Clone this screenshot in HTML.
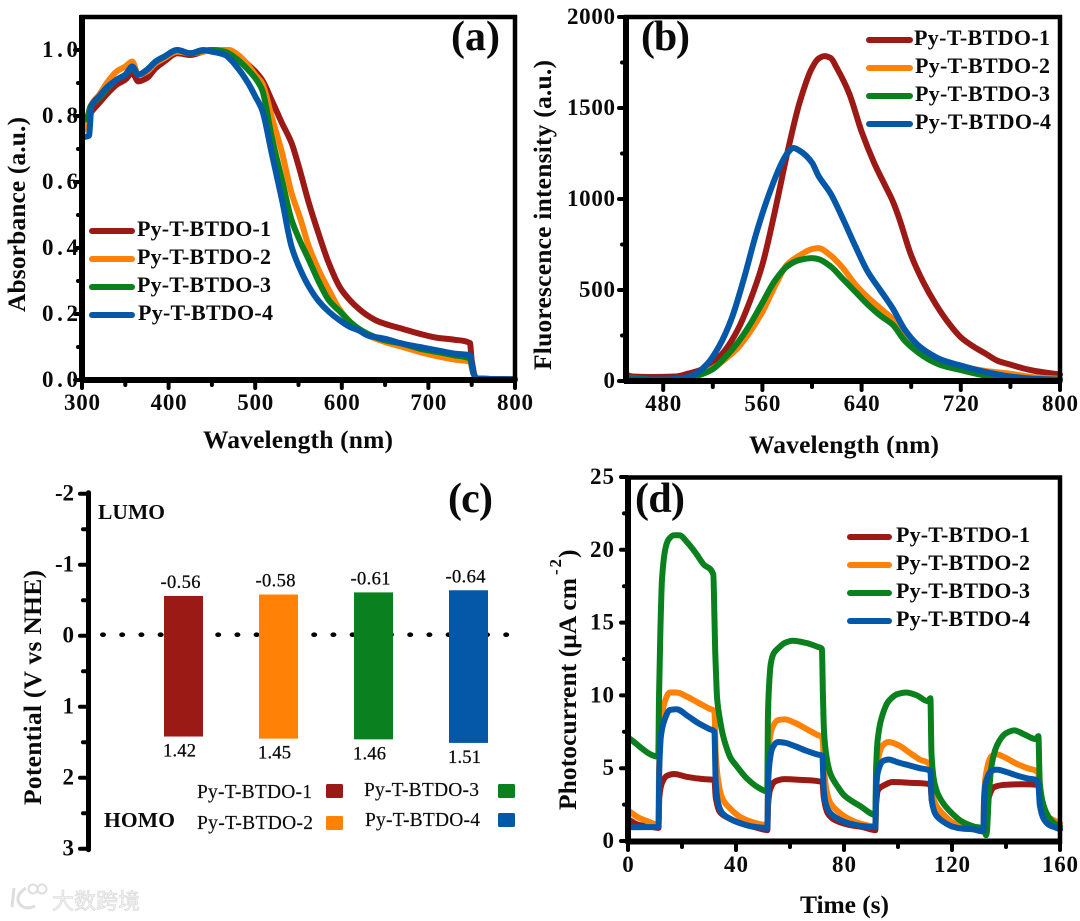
<!DOCTYPE html>
<html lang="en">
<head>
<meta charset="utf-8">
<title>Py-T-BTDO characterisation panels</title>
<style>
html,body{margin:0;padding:0;background:#fff;width:1080px;height:921px;overflow:hidden}
svg{display:block;filter:blur(0.35px)}
text{font-family:"Liberation Serif","Noto Serif CJK SC",serif;font-weight:bold;fill:#0a0a0a}
.reg{font-weight:normal;font-size:19.5px;stroke:#111;stroke-width:.15}
.leg{font-size:22px}
.ttl{font-size:25.5px}
.tag{font-size:42px}
.big{font-size:21.5px}
.swatch-line{stroke-width:6;stroke-linecap:round;fill:none}
.frame{fill:none;stroke:#000;stroke-width:4.5}
</style>
</head>
<body>
<svg id="figure" xmlns="http://www.w3.org/2000/svg" width="1080" height="921" viewBox="0 0 1080 921">
  <rect x="0" y="0" width="1080" height="921" fill="#fff"/>

  <g id="panel-a">
    <g id="a-series"></g>
    <rect class="frame" x="82" y="17" width="433" height="363"/>
    <line x1="82" y1="15" x2="82" y2="382" stroke="#000" stroke-width="6"/>
    <line x1="80" y1="380" x2="517" y2="380" stroke="#000" stroke-width="6"/>
    <g id="a-ticks"></g>
    <text class="ttl" x="203" y="448" textLength="190" lengthAdjust="spacing">Wavelength (nm)</text>
    <text class="ttl" transform="translate(25,312) rotate(-90)" textLength="195" lengthAdjust="spacing">Absorbance (a.u.)</text>
    <text class="tag" x="451" y="50" textLength="49" lengthAdjust="spacing">(a)</text>
    <g>
      <line class="swatch-line" x1="92" y1="231" x2="132" y2="231" stroke="#9c1a16"/>
      <line class="swatch-line" x1="92" y1="259" x2="132" y2="259" stroke="#ff8207"/>
      <line class="swatch-line" x1="92" y1="287" x2="132" y2="287" stroke="#0b801e"/>
      <line class="swatch-line" x1="92" y1="315" x2="132" y2="315" stroke="#0558a8"/>
      <text class="leg" x="137" y="236" textLength="134" lengthAdjust="spacing">Py-T-BTDO-1</text>
      <text class="leg" x="137" y="264" textLength="134" lengthAdjust="spacing">Py-T-BTDO-2</text>
      <text class="leg" x="137" y="292" textLength="134" lengthAdjust="spacing">Py-T-BTDO-3</text>
      <text class="leg" x="138" y="320" textLength="135" lengthAdjust="spacing">Py-T-BTDO-4</text>
    </g>
  </g>

  <g id="panel-b">
    <g id="b-series"></g>
    <rect class="frame" x="626" y="17" width="434" height="364"/>
    <line x1="626" y1="15" x2="626" y2="383" stroke="#000" stroke-width="6"/>
    <line x1="624" y1="381" x2="1062" y2="381" stroke="#000" stroke-width="6"/>
    <g id="b-ticks"></g>
    <text class="ttl" x="749" y="453" textLength="190" lengthAdjust="spacing">Wavelength (nm)</text>
    <text class="ttl" transform="translate(551,370) rotate(-90)" textLength="310" lengthAdjust="spacing">Fluorescence intensity (a.u.)</text>
    <text class="tag" x="641" y="50" textLength="49" lengthAdjust="spacing">(b)</text>
    <g>
      <line class="swatch-line" x1="869" y1="40" x2="910" y2="40" stroke="#9c1a16"/>
      <line class="swatch-line" x1="869" y1="68" x2="910" y2="68" stroke="#ff8207"/>
      <line class="swatch-line" x1="869" y1="96" x2="910" y2="96" stroke="#0b801e"/>
      <line class="swatch-line" x1="869" y1="124" x2="910" y2="124" stroke="#0558a8"/>
      <text class="leg" x="914" y="45" textLength="136" lengthAdjust="spacing">Py-T-BTDO-1</text>
      <text class="leg" x="915" y="73" textLength="135" lengthAdjust="spacing">Py-T-BTDO-2</text>
      <text class="leg" x="915" y="101" textLength="135" lengthAdjust="spacing">Py-T-BTDO-3</text>
      <text class="leg" x="915" y="129" textLength="136" lengthAdjust="spacing">Py-T-BTDO-4</text>
    </g>
  </g>

  <g id="panel-c">
    <g id="c-dots"></g>
    <g id="c-bars"></g>
    <g id="c-ticks"></g>
    <text class="big" x="98" y="519" textLength="67" lengthAdjust="spacing">LUMO</text>
    <text class="big" x="104" y="827" textLength="71" lengthAdjust="spacing">HOMO</text>
    <text class="ttl" transform="translate(41,805) rotate(-90)" textLength="235" lengthAdjust="spacing">Potential (V vs NHE)</text>
    <text class="tag" x="448" y="512" textLength="45" lengthAdjust="spacing">(c)</text>
    <g>
      <text class="reg" x="197" y="798" textLength="115" lengthAdjust="spacing">Py-T-BTDO-1</text>
      <text class="reg" x="197" y="829" textLength="116" lengthAdjust="spacing">Py-T-BTDO-2</text>
      <text class="reg" x="364" y="796" textLength="115" lengthAdjust="spacing">Py-T-BTDO-3</text>
      <text class="reg" x="365" y="826" textLength="115" lengthAdjust="spacing">Py-T-BTDO-4</text>
      <rect x="326" y="784" width="17" height="14" rx="1.5" fill="#9c1a16"/>
      <rect x="326" y="816" width="17" height="14" rx="1.5" fill="#ff8207"/>
      <rect x="498" y="784" width="17" height="14" rx="1.5" fill="#0b801e"/>
      <rect x="498" y="813" width="17" height="14" rx="1.5" fill="#0558a8"/>
    </g>
  </g>

  <g id="panel-d">
    <g id="d-series"></g>
    <rect class="frame" x="628" y="477.5" width="432" height="364"/>
    <line x1="628" y1="475.5" x2="628" y2="843.5" stroke="#000" stroke-width="6"/>
    <line x1="626" y1="841.5" x2="1062" y2="841.5" stroke="#000" stroke-width="6"/>
    <g id="d-ticks"></g>
    <text class="ttl" x="800" y="913" textLength="89" lengthAdjust="spacing">Time (s)</text>
    <g>
      <text class="ttl" transform="translate(576,810) rotate(-90)" textLength="232" lengthAdjust="spacing">Photocurrent (μA cm</text>
      <text style="font-size:17px" transform="translate(561,575) rotate(-90)" textLength="16" lengthAdjust="spacing">-2</text>
      <text class="ttl" transform="translate(576,558) rotate(-90)" textLength="8" lengthAdjust="spacing">)</text>
    </g>
    <text class="tag" x="635" y="512" textLength="50" lengthAdjust="spacing">(d)</text>
    <g>
      <line class="swatch-line" x1="850" y1="537" x2="889" y2="537" stroke="#9c1a16"/>
      <line class="swatch-line" x1="850" y1="565" x2="889" y2="565" stroke="#ff8207"/>
      <line class="swatch-line" x1="850" y1="593" x2="889" y2="593" stroke="#0b801e"/>
      <line class="swatch-line" x1="850" y1="621" x2="889" y2="621" stroke="#0558a8"/>
      <text class="leg" x="896" y="542" textLength="134" lengthAdjust="spacing">Py-T-BTDO-1</text>
      <text class="leg" x="896" y="570" textLength="134" lengthAdjust="spacing">Py-T-BTDO-2</text>
      <text class="leg" x="896" y="598" textLength="134" lengthAdjust="spacing">Py-T-BTDO-3</text>
      <text class="leg" x="896" y="626" textLength="134" lengthAdjust="spacing">Py-T-BTDO-4</text>
    </g>
  </g>

  <g>
    <g fill="none" stroke="#dedede" stroke-width="3">
      <path d="M14 888 L12 907 M26 888 Q15 895 19 903 Q24 911 35 906"/>
      <circle cx="33" cy="889" r="4.5" stroke-width="2"/>
      <circle cx="42" cy="889" r="4.5" stroke-width="2"/>
    </g>
    <text x="52" y="909" textLength="88" lengthAdjust="spacingAndGlyphs" style="font-family:'Liberation Sans','Noto Sans CJK SC',sans-serif;font-size:22px;font-weight:normal;fill:#f2f2f2;stroke:#d6d6d6;stroke-width:.6">大数跨境</text>
  </g>
</svg>

<script>
/* ---------- Panel (a) absorbance ---------- */
const aX1 = [300,310,320,330,340,350,358,365,375,385,395,410,425,440,450,470,480,490,500,508,519,531,542,550,562,573,585,598,610,620,630,640,650,670,690,710,730,748,750,755,800];
const aY1 = [.77,.81,.84,.87,.895,.91,.93,.905,.915,.945,.965,.99,.985,.995,1,.998,.985,.96,.935,.909,.848,.778,.718,.65,.536,.445,.354,.28,.24,.215,.195,.18,.17,.155,.14,.128,.122,.112,.06,.005,.002];
const aX2 = [300,305,310,320,330,340,350,358,365,375,385,395,410,425,440,450,470,480,490,500,508,519,531,542,552,562,573,585,598,610,620,630,650,670,690,710,730,748,752,756,800];
const aY2 = [.75,.77,.83,.865,.905,.935,.95,.965,.925,.935,.96,.975,.995,.99,.995,1,1,.985,.96,.925,.899,.798,.688,.566,.49,.404,.335,.273,.212,.175,.15,.135,.115,.10,.085,.072,.062,.055,.02,.005,.002];
const aX3 = [300,305,310,320,330,340,350,358,365,375,385,395,410,425,440,450,465,480,490,500,508,519,531,542,552,562,573,585,598,610,620,630,650,670,690,710,730,748,752,756,800];
const aY3 = [.79,.79,.83,.855,.885,.91,.925,.945,.925,.94,.965,.98,1,.99,.998,1,.995,.97,.945,.915,.879,.737,.606,.485,.42,.364,.30,.242,.207,.175,.155,.14,.12,.11,.095,.085,.075,.065,.02,.005,.002];
const aX4 = [300,308,311,320,330,340,350,358,365,375,385,395,410,425,440,450,465,480,492,500,508,519,531,542,552,562,573,585,598,610,620,630,650,670,690,710,730,748,752,756,800];
const aY4 = [.735,.74,.83,.86,.89,.91,.925,.95,.925,.94,.965,.98,1,.99,1,.995,.985,.945,.899,.86,.818,.688,.545,.404,.335,.283,.24,.207,.18,.16,.15,.135,.125,.11,.10,.09,.08,.075,.02,.005,.002];
const aXTicks = ["300","400","500","600","700","800"];
const aYTicks = ["0.0","0.2","0.4","0.6","0.8","1.0"];

/* ---------- Panel (b) fluorescence ---------- */
const bX1 = [450,455,470,490,500,510,520,530,540,550,560,570,580,590,600,605,610,615,620,630,640,650,660,665,670,680,690,700,710,720,730,740,750,760,770,780,790,800];
const bY1 = [35,25,22,25,40,60,100,170,280,440,640,930,1250,1530,1720,1770,1785,1775,1720,1580,1370,1200,1060,990,900,690,540,420,320,240,190,150,110,90,70,55,45,35];
const bX2 = [450,480,495,510,520,530,540,550,560,570,580,590,600,605,615,625,635,645,655,665,675,685,695,705,720,740,760,780,800];
const bY2 = [8,5,12,35,70,120,180,270,380,520,640,690,725,730,690,620,530,460,400,340,240,170,135,105,80,55,40,20,12];
const bX3 = [450,480,495,510,520,530,540,550,560,570,580,590,600,605,615,625,635,645,655,665,675,685,695,705,720,740,760,780,800];
const bY3 = [20,5,10,35,65,130,210,310,430,550,630,665,675,670,630,560,490,420,360,310,220,160,115,85,60,30,15,5,3];
const bX4 = [450,480,495,505,515,525,535,545,555,565,575,580,585,590,600,605,615,625,635,645,655,665,675,685,695,705,720,740,760,780,800];
const bY4 = [10,8,15,35,90,190,340,560,810,1020,1190,1250,1280,1265,1200,1130,1030,890,740,600,500,400,280,200,150,115,85,50,25,12,8];
const bXTicks = ["480","560","640","720","800"];
const bYTicks = ["0","500","1000","1500","2000"];

/* ---------- Panel (c) energy levels ---------- */
const cLumo = [-0.56,-0.58,-0.61,-0.64];
const cHomo = [1.42,1.45,1.46,1.51];
const cYTicks = ["-2","-1","0","1","2","3"];

/* ---------- Panel (d) photocurrent ---------- */
const dX1 = [0,4,8,11.3,11.6,12.6,14.6,17,22,28,32,32.5,34,37,42,47,51.6,51.9,52.6,54.6,58,64,72,72.5,74,77,82,87,91.6,91.9,92.6,94.6,98,104,112,112.5,114,117,122,128,131.6,132.6,133.6,135.6,139,146,152,152.5,154,156,160];
const dY1 = [1.5,1.1,1,.9,3,4,4.5,4.6,4.4,4.25,4.2,3,2,1.6,1.2,.95,.75,2.5,3.5,4.1,4.25,4.2,4.05,3,1.9,1.4,1.1,.95,.75,2.5,3.5,3.8,4.05,4,3.9,2.8,1.9,1.4,1,.8,.65,2,3,3.7,3.85,3.9,3.85,3,2,1.3,.8];
const dX2 = [0,4,8,11.3,11.5,12.2,13.5,15.5,18,22,26,30,32,32.5,33.5,35,38,42,46,51.6,51.9,52.5,53.5,55.5,58,62,66,70,72,72.6,73.5,75,78,82,86,91.6,91.9,92.5,94.5,96.5,100,104,108,112,112.5,114,117,120,124,128,131.6,131.9,132.5,134.5,136.5,140,144,148,152,152.5,154,156,158,160];
const dY2 = [2.1,1.6,1.3,1.1,5,8,9.5,10.2,10.2,9.9,9.5,9.1,8.9,6,4,2.9,2.2,1.6,1.3,1.1,5,7,7.8,8.3,8.35,8.1,7.7,7.3,7.1,5,3.5,2.6,2,1.5,1.2,1,4,5.5,6.6,6.8,6.6,6.1,5.6,5.2,3.5,2.5,1.8,1.3,1,.9,.8,3,4.5,5.8,5.95,5.7,5.3,5,4.7,3,2.2,1.6,1.4,1.2];
const dX3 = [0,11.2,11.5,12,12.6,14,15,17,19,22,25,28,31.6,32,32.3,32.6,33,34,35,36,38,40,44,48,51.6,51.8,52.2,52.9,54,56,58,61,66,70,71.8,72.2,72.6,73.6,75,77.8,80,86,91.6,91.9,92.5,94.5,96.5,100,103,107,111,112,112.4,113.5,116,120,124,128,132,132.6,132.9,133.6,134.5,136.5,140,143,147,151,152,152.5,154,156,158,160];
const dY3 = [7.1,5.8,10,14.5,18,20.2,20.7,21,21,20.5,19.8,19,18.3,15.5,13,11.5,9.8,8.4,7.4,6.7,5.7,5.2,4.3,3.7,3.4,8.3,10.5,12.2,12.9,13.3,13.6,13.75,13.6,13.35,13.2,10,7.5,5.7,4.6,3.7,3.15,2.4,1.8,5,7,8.8,9.6,10.1,10.2,10,9.6,9.8,6,4,2.8,1.9,1.3,1,.8,.4,.6,3,5,6.5,7.4,7.6,7.3,7,7.2,4,2.4,1.6,1.2,1];
const dX4 = [0,11,11.3,11.6,12.2,13.5,15.5,18,22,26,30,32,32.5,33.5,35,38,42,46,51.6,51.9,52.5,53.5,55.5,58,62,66,70,72,72.5,73.5,75,78,82,86,91.6,91.9,92.5,94.5,96.5,100,104,108,112,112.5,114,117,120,124,128,131.6,131.9,132.5,134.5,136.5,140,144,148,151,152,152.5,154,156,158,160];
const dY4 = [.95,.95,1,5,7.2,8.3,9,9.05,8.6,8.1,7.7,7.5,4,2.5,1.9,1.5,1.2,1,.9,4,5.5,6.4,6.8,6.75,6.5,6.2,5.95,5.85,3.5,2.4,1.9,1.5,1.2,1.05,.95,3.5,4.7,5.5,5.6,5.4,5.2,5,4.8,2.8,1.8,1.3,1,.85,.8,.7,3,4,4.8,4.9,4.75,4.5,4.3,4.2,3.9,2.5,1.5,1.1,.95,.8];
const dXTicks = ["0","40","80","120","160"];
const dYTicks = ["0","5","10","15","20","25"];

const colours = ["#9c1a16","#ff8207","#0b801e","#0558a8"];
const NS = "http://www.w3.org/2000/svg";

function make(tag, parentId, name) {
  const el = document.createElementNS(NS, tag);
  
  
  document.getElementById(parentId).appendChild(el);
  return el;
}
function scale(d0, d1, r0, r1) {
  return v => r0 + (v - d0) * (r1 - r0) / (d1 - d0);
}
/* Monotone cubic path: smooth like the measured traces, no overshoot at the sharp on/off edges */
function smoothPath(px, py) {
  const n = px.length;
  const sec = [];
  for (let i = 0; i < n - 1; i++) sec.push((py[i + 1] - py[i]) / (px[i + 1] - px[i]));
  const tan = [sec[0]];
  for (let i = 1; i < n - 1; i++) {
    if (sec[i - 1] * sec[i] <= 0) tan.push(0);
    else {
      const w1 = 2 * (px[i + 1] - px[i]) + (px[i] - px[i - 1]);
      const w2 = (px[i + 1] - px[i]) + 2 * (px[i] - px[i - 1]);
      tan.push((w1 + w2) / (w1 / sec[i - 1] + w2 / sec[i]));
    }
  }
  tan.push(sec[n - 2]);
  let d = 'M' + px[0].toFixed(1) + ' ' + py[0].toFixed(1);
  for (let i = 0; i < n - 1; i++) {
    const h = (px[i + 1] - px[i]) / 3;
    d += 'C' + (px[i] + h).toFixed(2) + ' ' + (py[i] + tan[i] * h).toFixed(2) + ' ' +
         (px[i + 1] - h).toFixed(2) + ' ' + (py[i + 1] - tan[i + 1] * h).toFixed(2) + ' ' +
         px[i + 1].toFixed(2) + ' ' + py[i + 1].toFixed(2);
  }
  return d;
}
function drawLine(parentId, xs, ys, fx, fy, colour, name) {
  const el = make('path', parentId, name);
  el.setAttribute('d', smoothPath(xs.map(fx), ys.map(fy)));
  el.setAttribute('fill', 'none');
  el.setAttribute('stroke', colour);
  el.setAttribute('stroke-width', '6');
  el.setAttribute('stroke-linejoin', 'round');
  el.setAttribute('stroke-linecap', 'round');
}
function labelWidth(s) {
  let w = 0;
  for (const c of s) w += c === '.' ? 12 : (c === '-' ? 7 : 12);
  return w;
}
function tickText(parentId, str, x, y, anchor, name) {
  const el = make('text', parentId, name);
  el.textContent = str;
  el.setAttribute('x', x);
  el.setAttribute('y', y);
  el.setAttribute('text-anchor', anchor);
  el.setAttribute('font-size', '23');
  el.setAttribute('textLength', labelWidth(str));
  el.setAttribute('lengthAdjust', 'spacing');
}
function tickMark(parentId, x1, y1, x2, y2, name) {
  const el = make('line', parentId, name);
  el.setAttribute('x1', x1);
  el.setAttribute('y1', y1);
  el.setAttribute('x2', x2);
  el.setAttribute('y2', y2);
  el.setAttribute('stroke', '#000');
  el.setAttribute('stroke-width', '4');
  el.setAttribute('stroke-linecap', 'round');
}
function axisTicks(parentId, labels, fn, axis, base, baseLabel, labelAnchor) {
  const vals = labels.map(Number);
  vals.forEach((v, i) => {
    const p = fn(v);
    if (axis === 'x') {
      tickMark(parentId, p, base, p, base + 7, 'x-tick-' + labels[i]);
      tickText(parentId, labels[i], p, baseLabel, labelAnchor, 'x-tick-label-' + labels[i]);
      if (i > 0) {
        const m = fn((v + vals[i - 1]) / 2);
        tickMark(parentId, m, base, m, base + 4, 'x-minor-tick');
      }
    } else {
      tickMark(parentId, base, p, base - 6, p, 'y-tick-' + labels[i]);
      tickText(parentId, labels[i], baseLabel, p + 7, labelAnchor, 'y-tick-label-' + labels[i]);
      if (i > 0) {
        const m = fn((v + vals[i - 1]) / 2);
        tickMark(parentId, base, m, base - 3, m, 'y-minor-tick');
      }
    }
  });
}

/* Panel a */
const ax = scale(300, 800, 82, 515);
const ay = scale(0, 1, 380, 50);
[[aX1,aY1],[aX2,aY2],[aX3,aY3],[aX4,aY4]].forEach((s, i) => drawLine('a-series', s[0], s[1], ax, ay, colours[i], 'absorbance-line-' + (i + 1)));
axisTicks('a-ticks', aXTicks, ax, 'x', 381, 410, 'middle');
axisTicks('a-ticks', aYTicks, ay, 'y', 81, 78, 'end');

/* Panel b */
const bx = scale(450, 800, 626, 1060);
const by = scale(0, 2000, 381, 17);
[[bX1,bY1],[bX2,bY2],[bX3,bY3],[bX4,bY4]].forEach((s, i) => drawLine('b-series', s[0], s[1], bx, by, colours[i], 'fluorescence-line-' + (i + 1)));
axisTicks('b-ticks', bXTicks, bx, 'x', 383, 411, 'middle');
axisTicks('b-ticks', bYTicks, by, 'y', 625, 615, 'end');

/* Panel c */
const cy = scale(0, 1, 635.7, 706.7);
const cBand = i => 183.5 + 95 * i;
const barW = 39;
for (let k = 0; k < 22; k++) {
  const dot = make('ellipse', 'c-dots', 'zero-line-dot');
  dot.setAttribute('cx', (103 + 19.2 * k).toFixed(1));
  dot.setAttribute('cy', cy(0) - 1);
  dot.setAttribute('rx', '3');
  dot.setAttribute('ry', '2.3');
  dot.setAttribute('fill', '#000');
}
cLumo.forEach((lumo, i) => {
  const homo = cHomo[i];
  const bar = make('rect', 'c-bars', 'energy-bar-' + (i + 1));
  bar.setAttribute('x', cBand(i) - barW / 2);
  bar.setAttribute('y', cy(lumo));
  bar.setAttribute('width', barW);
  bar.setAttribute('height', cy(homo) - cy(lumo));
  bar.setAttribute('fill', colours[i]);
  const top = make('text', 'c-bars', 'lumo-value-' + (i + 1));
  top.textContent = lumo.toFixed(2);
  top.setAttribute('x', cBand(i) - 3);
  top.setAttribute('y', cy(lumo) - 8);
  top.setAttribute('text-anchor', 'middle');
  top.setAttribute('font-size', '18.5');
  top.setAttribute('style', 'font-weight:normal;stroke:#111;stroke-width:.3');
  top.setAttribute('textLength', '40');
  top.setAttribute('lengthAdjust', 'spacing');
  const bot = make('text', 'c-bars', 'homo-value-' + (i + 1));
  bot.textContent = homo.toFixed(2);
  bot.setAttribute('x', cBand(i) - 4);
  bot.setAttribute('y', cy(homo) + 20);
  bot.setAttribute('text-anchor', 'middle');
  bot.setAttribute('font-size', '18.5');
  bot.setAttribute('style', 'font-weight:normal;stroke:#111;stroke-width:.3');
  bot.setAttribute('textLength', '33');
  bot.setAttribute('lengthAdjust', 'spacing');
});
const cAxis = make('line', 'c-ticks', 'potential-axis-line');
cAxis.setAttribute('x1', 88.5);
cAxis.setAttribute('x2', 88.5);
cAxis.setAttribute('y1', cy(-2) - 1);
cAxis.setAttribute('y2', cy(3) + 1);
cAxis.setAttribute('stroke', '#000');
cAxis.setAttribute('stroke-width', '5');
cAxis.setAttribute('stroke-linecap', 'round');
axisTicks('c-ticks', cYTicks, cy, 'y', 86, 74, 'end');

/* Panel d */
const dx = scale(0, 160, 628, 1060);
const dy = scale(0, 25, 841, 477);
[[dX1,dY1],[dX2,dY2],[dX3,dY3],[dX4,dY4]].forEach((s, i) => drawLine('d-series', s[0], s[1], dx, dy, colours[i], 'photocurrent-line-' + (i + 1)));
axisTicks('d-ticks', dXTicks, dx, 'x', 843, 872, 'middle');
axisTicks('d-ticks', dYTicks, dy, 'y', 627, 614, 'end');
</script>
</body>
</html>
